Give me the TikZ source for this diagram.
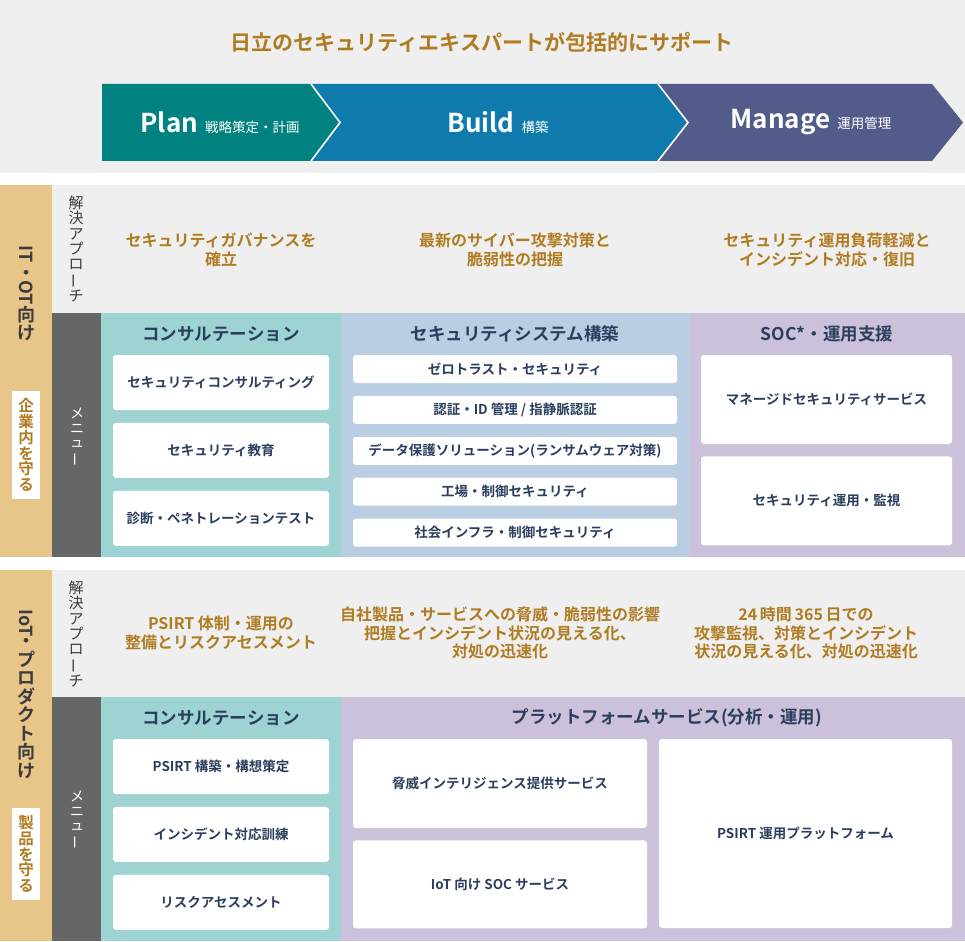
\documentclass[tikz,border=0pt]{standalone}
\usepackage{fontspec}
\setmainfont{Noto Sans CJK JP}[BoldFont={Noto Sans CJK JP Bold}]
\usetikzlibrary{positioning}
\definecolor{htGold}{RGB}{176,124,34}
\definecolor{htNavy}{RGB}{43,62,94}
\definecolor{htInk}{RGB}{60,60,60}
\definecolor{htGray}{RGB}{239,239,239}
\definecolor{htMenu}{RGB}{102,102,102}
\definecolor{htSand}{RGB}{232,198,138}
\definecolor{htTealL}{RGB}{157,211,211}
\definecolor{htBlueL}{RGB}{185,205,227}
\definecolor{htLilac}{RGB}{203,193,218}
\definecolor{htPlan}{RGB}{0,130,128}
\definecolor{htBuild}{RGB}{15,123,173}
\definecolor{htManage}{RGB}{83,91,139}
\newcommand\vlat[1]{\rotatebox[origin=c]{-90}{#1}}
\newcommand\vbar{\rotatebox[origin=c]{90}{ー}}
\newcommand\phasesub[1]{{\mdseries\fontsize{13.5}{16}\selectfont #1}}

\begin{document}
\begin{tikzpicture}[x=1pt,y=-1pt,
    item/.style={fill=white,rounded corners=3pt,inner sep=0pt,align=center,text=htNavy,
      font=\bfseries\fontsize{13.5}{16}\selectfont},
    head/.style={text=htNavy,font=\bfseries\fontsize{17.5}{20}\selectfont},
    goal/.style={align=center,text=htGold,font=\bfseries\fontsize{16}{18.5}\selectfont},
    tate/.style={align=center,inner sep=0pt},
    tagbox/.style={fill=white,minimum width=28pt,inner sep=0pt,align=center,text=htGold,
      font=\bfseries\fontsize{15.5}{15.7}\selectfont},
    phase/.style={text=white,font=\bfseries\fontsize{26}{30}\selectfont}
  ]
  \useasboundingbox (0,0) rectangle (965,941);

  % header band with the three phases
  \fill[htGray] (0,0) rectangle (965,173);
  \node[font=\bfseries\fontsize{21}{24}\selectfont,text=htGold] (title) at (482,42)
    {日立のセキュリティエキスパートが包括的にサポート};
  \fill[htPlan] (102,84) -- (311,84) -- (340,122.5) -- (311,161) -- (102,161) -- cycle;
  \fill[htBuild] (311,84) -- (658,84) -- (688,122.5) -- (658,161) -- (311,161) -- (340,122.5) -- cycle;
  \fill[htManage] (658,84) -- (932,84) -- (963,122.5) -- (932,161) -- (658,161) -- (688,122.5) -- cycle;
  \draw[white,line width=1.6pt] (311,84) -- (340,122.5) -- (311,161);
  \draw[white,line width=1.6pt] (658,84) -- (688,122.5) -- (658,161);
  \node[phase] (plan) at (220,122.5) {Plan\hspace{7pt}\phasesub{戦略策定・計画}};
  \node[phase] (build) at (498,122.5) {Build\hspace{7pt}\phasesub{構築}};
  \node[phase] (manage) at (811,122.5) {Manage\hspace{7pt}\phasesub{運用管理}};

  % IT / OT section
  \fill[htSand] (0,185) rectangle (52,557);
  \fill[htGray] (52,185) rectangle (965,313);
  \fill[htMenu] (52,313) rectangle (101,557);
  \fill[htTealL] (101,313) rectangle (341,557);
  \fill[htBlueL] (341,313) rectangle (690,557);
  \fill[htLilac] (690,313) rectangle (965,557);
  \node[tate,text=htInk,font=\bfseries\fontsize{18}{18.5}\selectfont] (itot) at (26,293.5)
    {\vlat{IT}\\・\\\vlat{OT}\\向\\け};
  \node[tagbox,minimum height=108pt] (inhouse) at (26,445) {企\\業\\内\\を\\守\\る};
  \node[tate,text=htInk,font=\fontsize{15}{15.2}\selectfont] (appA) at (76,249)
    {解\\決\\ア\\プ\\ロ\\\vbar\\チ};
  \node[tate,text=white,font=\fontsize{14}{14.5}\selectfont] (menuA) at (77,437)
    {メ\\ニ\\ュ\\\vbar};
  \node[goal] (goalA1) at (221,250) {セキュリティガバナンスを\\確立};
  \node[goal] (goalA2) at (515,250) {最新のサイバー攻撃対策と\\脆弱性の把握};
  \node[goal] (goalA3) at (827,250) {セキュリティ運用負荷軽減と\\インシデント対応・復旧};

  \node[head] (consA) at (221,334) {コンサルテーション};
  \node[item,minimum width=216pt,minimum height=55pt] (consult) at (221,382.5) {セキュリティコンサルティング};
  \node[item,minimum width=216pt,minimum height=55pt,below=12.5pt of consult] (edu) {セキュリティ教育};
  \node[item,minimum width=216pt,minimum height=55pt,below=12.5pt of edu] (pentest) {診断・ペネトレーションテスト};

  \node[head] (sysA) at (515,334) {セキュリティシステム構築};
  \node[item,minimum width=324pt,minimum height=28pt] (zt) at (515,369) {ゼロトラスト・セキュリティ};
  \node[item,minimum width=324pt,minimum height=28pt,below=12.5pt of zt] (auth) {認証・ID 管理 / 指静脈認証};
  \node[item,minimum width=324pt,minimum height=28pt,below=12.5pt of auth] (dlp) {データ保護ソリューション(ランサムウェア対策)};
  \node[item,minimum width=324pt,minimum height=28pt,below=12.5pt of dlp] (fac) {工場・制御セキュリティ};
  \node[item,minimum width=324pt,minimum height=28pt,below=12.5pt of fac] (infra) {社会インフラ・制御セキュリティ};

  \node[head] (socA) at (827,334) {SOC*・運用支援};
  \node[item,minimum width=251pt,minimum height=89pt] (mss) at (826.5,399.5) {マネージドセキュリティサービス};
  \node[item,minimum width=251pt,minimum height=89pt,below=12pt of mss] (ops) {セキュリティ運用・監視};

  % IoT / product section
  \fill[htSand] (0,570) rectangle (52,941);
  \fill[htGray] (52,570) rectangle (965,697);
  \fill[htMenu] (52,697) rectangle (101,941);
  \fill[htTealL] (101,697) rectangle (341,941);
  \fill[htLilac] (341,697) rectangle (965,941);
  \node[tate,text=htInk,font=\bfseries\fontsize{18}{18.5}\selectfont] (iot) at (26,694)
    {\vlat{IoT}\\・\\プ\\ロ\\ダ\\ク\\ト\\向\\け};
  \node[tagbox,minimum height=92pt] (product) at (26,854) {製\\品\\を\\守\\る};
  \node[tate,text=htInk,font=\fontsize{15}{15.2}\selectfont] (appB) at (76,634)
    {解\\決\\ア\\プ\\ロ\\\vbar\\チ};
  \node[tate,text=white,font=\fontsize{14}{14.5}\selectfont] (menuB) at (77,820)
    {メ\\ニ\\ュ\\\vbar};
  \node[goal] (goalB1) at (221,633) {PSIRT 体制・運用の\\整備とリスクアセスメント};
  \node[goal] (goalB2) at (500,633) {自社製品・サービスへの脅威・脆弱性の影響\\把握とインシデント状況の見える化、\\対処の迅速化};
  \node[goal] (goalB3) at (806,633) {24\,時間\,365\,日での\\攻撃監視、対策とインシデント\\状況の見える化、対処の迅速化};

  \node[head] (consB) at (221,718) {コンサルテーション};
  \node[item,minimum width=216pt,minimum height=55pt] (psirt) at (221,766.5) {PSIRT 構築・構想策定};
  \node[item,minimum width=216pt,minimum height=55pt,below=12.5pt of psirt] (drill) {インシデント対応訓練};
  \node[item,minimum width=216pt,minimum height=55pt,below=12.5pt of drill] (risk) {リスクアセスメント};

  \node[head] (platB) at (667,718) {プラットフォームサービス(分析・運用)};
  \node[item,minimum width=294pt,minimum height=89pt] (intel) at (500,783.5) {脅威インテリジェンス提供サービス};
  \node[item,minimum width=294pt,minimum height=88pt,below=12pt of intel] (iotsoc) {IoT 向け SOC サービス};
  \node[item,minimum width=293pt,minimum height=189pt] (pplat) at (805.5,833.5) {PSIRT 運用プラットフォーム};
\end{tikzpicture}
\end{document}
